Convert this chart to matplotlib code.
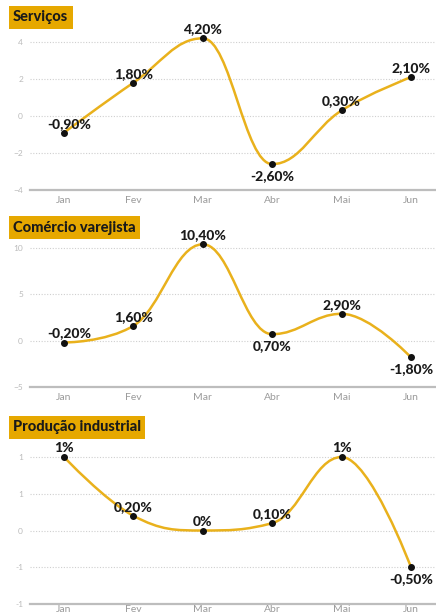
import matplotlib
matplotlib.use("Agg")
import matplotlib.pyplot as plt
from matplotlib.path import Path
from matplotlib.patches import PathPatch

plt.rcParams['font.family'] = ['Lato', 'DejaVu Sans']

# Data
months = ['Jan', 'Fev', 'Mar', 'Abr', 'Mai', 'Jun']
servicos = [-0.9, 1.8, 4.2, -2.6, 0.3, 2.1]
comercio = [-0.2, 1.6, 10.4, 0.7, 2.9, -1.8]
industria = [1.0, 0.2, 0.0, 0.1, 1.0, -0.5]

servicos_ticks = [-4, -2, 0, 2, 4]
comercio_ticks = [-5, 0, 5, 10]
industria_ticks = [-1, -0.5, 0, 0.5, 1]
industria_ticklabels = ['-1', '-1', '0', '1', '1']

GOLD = '#E9B11C'
BOX = '#E6A800'


def fmt(v):
    if float(v).is_integer():
        return f"{int(v)}%"
    return f"{v:.2f}".replace('.', ',') + '%'


def spline_path(xs, ys, smoothing=1.5):
    # highcharts-like spline: control points per point, clamped at extremes
    n = len(xs)
    left = [None] * n
    right = [None] * n
    denom = smoothing + 1
    for i in range(1, n - 1):
        lx, ly = xs[i - 1], ys[i - 1]
        px, py = xs[i], ys[i]
        nx, ny = xs[i + 1], ys[i + 1]
        lcx = (smoothing * px + lx) / denom
        lcy = (smoothing * py + ly) / denom
        rcx = (smoothing * px + nx) / denom
        rcy = (smoothing * py + ny) / denom
        corr = (rcy - lcy) * (rcx - px) / (rcx - lcx) + py - rcy
        lcy += corr
        rcy += corr
        if lcy > ly and lcy > py:
            lcy = max(ly, py)
            rcy = 2 * py - lcy
        elif lcy < ly and lcy < py:
            lcy = min(ly, py)
            rcy = 2 * py - lcy
        if rcy > ny and rcy > py:
            rcy = max(ny, py)
            lcy = 2 * py - rcy
        elif rcy < ny and rcy < py:
            rcy = min(ny, py)
            lcy = 2 * py - rcy
        left[i] = (lcx, lcy)
        right[i] = (rcx, rcy)
    verts = [(xs[0], ys[0])]
    codes = [Path.MOVETO]
    for i in range(1, n):
        c1 = right[i - 1] if right[i - 1] else (xs[i - 1], ys[i - 1])
        c2 = left[i] if left[i] else (xs[i], ys[i])
        verts += [c1, c2, (xs[i], ys[i])]
        codes += [Path.CURVE4] * 3
    return Path(verts, codes)


fig = plt.figure(figsize=(4.36, 6.16), dpi=100)
W, H = 436, 616

panels = [
    dict(title='Serviços', values=servicos, ticks=servicos_ticks,
         ticklabels=None, top=42, bottom=190, box_top=7, below=[3], pad=4),
    dict(title='Comércio varejista', values=comercio, ticks=comercio_ticks,
         ticklabels=None, top=248, bottom=387, box_top=217, below=[3, 5], pad=4),
    dict(title='Produção industrial', values=industria, ticks=industria_ticks,
         ticklabels=industria_ticklabels, top=457, bottom=604, box_top=417, below=[5], pad=1),
]

x_left, x_right = 30, 436
x_first, step = 64, 69.4

for p in panels:
    ax = fig.add_axes([x_left / W, 1 - p['bottom'] / H,
                       (x_right - x_left) / W, (p['bottom'] - p['top']) / H])
    xs = list(range(len(months)))
    ys = p['values']
    ax.set_xlim(-(x_first - x_left) / step, (x_right - x_first) / step)
    ax.set_ylim(p['ticks'][0], p['ticks'][-1])

    for t in p['ticks'][1:]:
        ax.axhline(t, color='#CFCFCF', lw=0.8, ls=(0, (1, 1.5)), zorder=0, clip_on=False)
    for s in ['top', 'right', 'left']:
        ax.spines[s].set_visible(False)
    ax.spines['bottom'].set_color('#BDBDBD')
    ax.spines['bottom'].set_linewidth(1.6)

    ax.set_xticks(xs)
    ax.set_xticklabels(months, fontsize=7.5, color='#9A9A9A')
    ax.set_yticks(p['ticks'])
    if p['ticklabels']:
        ax.set_yticklabels(p['ticklabels'])
    ax.tick_params(axis='y', length=0, pad=5, labelsize=6, labelcolor='#BBBBBB')
    ax.tick_params(axis='x', length=0, pad=p['pad'])

    patch = PathPatch(spline_path(xs, ys), fill=False, edgecolor=GOLD, lw=1.8,
                      transform=ax.transData, clip_on=False, zorder=2)
    ax.add_patch(patch)
    ax.plot(xs, ys, 'o', color='#111111', ms=4, clip_on=False, zorder=3)

    for i, v in enumerate(ys):
        dx = 5 if (i == 0 and v < 0) else 0
        if i in p['below']:
            ax.annotate(fmt(v), (i, v), xytext=(dx, -6), textcoords='offset pixels',
                        ha='center', va='top', fontsize=10, fontweight='black',
                        color='#1A1A1A', annotation_clip=False, zorder=4)
        else:
            ax.annotate(fmt(v), (i, v), xytext=(dx, 5), textcoords='offset pixels',
                        ha='center', va='baseline', fontsize=10, fontweight='black',
                        color='#1A1A1A', annotation_clip=False, zorder=4)

    fig.text(13 / W, 1 - (p['box_top'] + 10.5) / H, p['title'], ha='left', va='center',
             fontsize=10.5, fontweight='black', color='#1A1A1A',
             bbox=dict(boxstyle='square,pad=0.3', fc=BOX, ec='none'))

fig.savefig('out.png', dpi=100)
